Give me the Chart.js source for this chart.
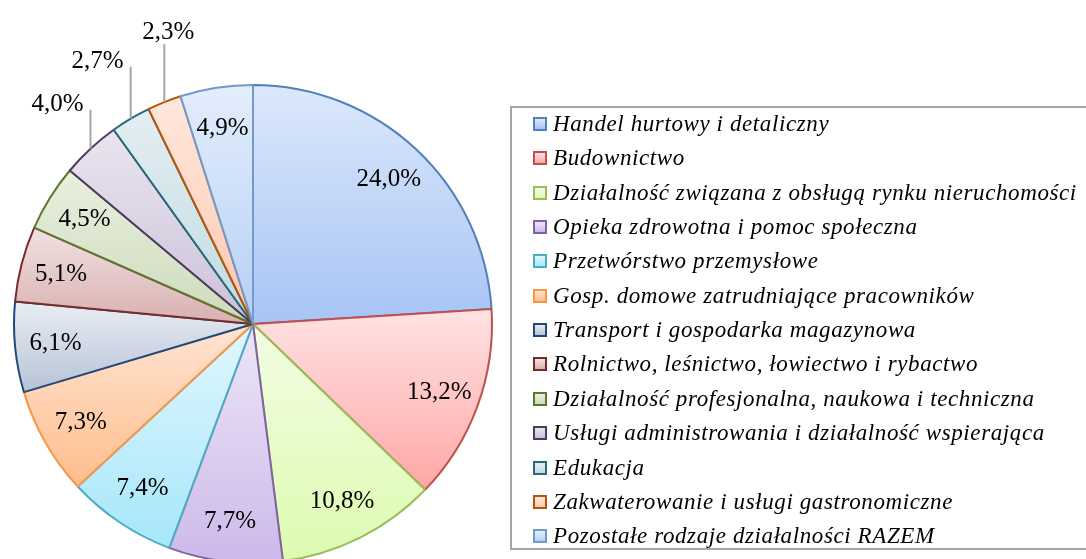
<!DOCTYPE html>
<html lang="pl">
<head>
<meta charset="utf-8">
<script src="https://cdn.jsdelivr.net/npm/chart.js@4/dist/chart.umd.min.js"></script>
<style>
  html, body { margin: 0; padding: 0; background: #fff; overflow: hidden; }
  #wrap { position: relative; width: 1086px; height: 559px; overflow: hidden; }
  #pie { position: absolute; left: 0; top: 0; }
  #legend {
    position: absolute; left: 510px; top: 106px; width: 600px; height: 444px;
    border: 2px solid #a6a6a6; box-sizing: border-box;
    font-family: 'Liberation Serif', serif; font-style: italic; font-size: 23px;
    letter-spacing: 0.6px; color: #000;
  }
  .row { position: absolute; left: 21px; height: 30px; display: flex; align-items: center; white-space: nowrap; }
  .sw { width: 10px; height: 10px; border: 2px solid; margin-right: 6px; flex: none; }
</style>
</head>
<body>
<div id="wrap">
  <canvas id="pie" width="1086" height="620"></canvas>
  <div id="legend"></div>
</div>
<script>
const categories = [
  'Handel hurtowy i detaliczny',
  'Budownictwo',
  'Działalność związana z obsługą rynku nieruchomości',
  'Opieka zdrowotna i pomoc społeczna',
  'Przetwórstwo przemysłowe',
  'Gosp. domowe zatrudniające pracowników',
  'Transport i gospodarka magazynowa',
  'Rolnictwo, leśnictwo, łowiectwo i rybactwo',
  'Działalność profesjonalna, naukowa i techniczna',
  'Usługi administrowania i działalność wspierająca',
  'Edukacja',
  'Zakwaterowanie i usługi gastronomiczne',
  'Pozostałe rodzaje działalności RAZEM'
];
const shares = [24.0, 13.2, 10.8, 7.7, 7.4, 7.3, 6.1, 5.1, 4.5, 4.0, 2.7, 2.3, 4.9];

const edgeColors = ['#4f81bd', '#c0504d', '#9bbb59', '#8064a2', '#4bacc6', '#f79646',
  '#1f497d', '#772c2a', '#5f7530', '#4d3b62', '#276a7c', '#b65708', '#729aca'];
const topColors = ['#dde8fb', '#ffe3e3', '#f3fde3', '#ede6f7', '#e1f7fd', '#ffe4d3',
  '#e9edf3', '#f1e1e1', '#e9f0df', '#eae5f0', '#e3eef2', '#ffe8de', '#e4eefc'];
const bottomColors = ['#a7c4f5', '#ffa6a6', '#dcfbb0', '#cdb9ea', '#a6e6fa', '#ffbd8c',
  '#b6c3d6', '#d8b0b0', '#cddbbb', '#cbc1d8', '#c0dbe2', '#ffc6ad', '#b5cff5'];

const fmt = v => v.toFixed(1).replace('.', ',') + '%';

// vertical gradient over each slice's own bounding box
function sliceFill(context) {
  const i = context.dataIndex;
  const chart = context.chart;
  const area = chart.chartArea;
  if (!area || i === undefined) return topColors[i] || '#fff';
  const cx = (area.left + area.right) / 2, cy = (area.top + area.bottom) / 2;
  const r = Math.min(area.right - area.left, area.bottom - area.top) / 2;
  const total = shares.reduce((a, b) => a + b, 0);
  let before = 0;
  for (let k = 0; k < i; k++) before += shares[k];
  const a0 = -Math.PI / 2 + 2 * Math.PI * before / total;
  const a1 = a0 + 2 * Math.PI * shares[i] / total;
  const ys = [cy, cy + r * Math.sin(a0), cy + r * Math.sin(a1)];
  [-Math.PI / 2, Math.PI / 2, 3 * Math.PI / 2].forEach(a => {
    if (a > a0 && a < a1) ys.push(cy + r * Math.sin(a));
  });
  const g = chart.ctx.createLinearGradient(0, Math.min(...ys), 0, Math.max(...ys));
  g.addColorStop(0, topColors[i]);
  g.addColorStop(1, bottomColors[i]);
  return g;
}

const sliceLabels = {
  id: 'sliceLabels',
  afterDatasetsDraw(chart, args, opts) {
    const ctx = chart.ctx;
    const meta = chart.getDatasetMeta(0);
    ctx.save();
    ctx.font = opts.font;
    ctx.fillStyle = '#000';
    meta.data.forEach((arc, i) => {
      const p = arc.getProps(['x', 'y', 'startAngle', 'endAngle', 'outerRadius'], true);
      const mid = (p.startAngle + p.endAngle) / 2;
      const text = fmt(shares[i]);
      const c = opts.callouts[i];
      if (!c) {
        ctx.textAlign = 'center';
        ctx.textBaseline = 'middle';
        ctx.fillText(text, p.x + Math.cos(mid) * p.outerRadius * opts.inset,
                           p.y + Math.sin(mid) * p.outerRadius * opts.inset);
        return;
      }
      const ax = p.x + Math.cos(mid) * p.outerRadius;
      const ay = p.y + Math.sin(mid) * p.outerRadius;
      const ty = ay - c.len;
      ctx.strokeStyle = '#a6a6a6';
      ctx.lineWidth = 2;
      ctx.beginPath();
      ctx.moveTo(ax, ay);
      ctx.lineTo(ax, ty);
      ctx.stroke();
      if (c.align === 'right') {
        ctx.textAlign = 'right';
        ctx.textBaseline = 'middle';
        ctx.fillText(text, ax - 7, ty - 5);
      } else {
        ctx.textAlign = 'center';
        ctx.textBaseline = 'alphabetic';
        ctx.fillText(text, ax + 4, ty - 5);
      }
    });
    ctx.restore();
  }
};

new Chart(document.getElementById('pie'), {
  type: 'pie',
  data: {
    labels: categories,
    datasets: [{
      data: shares,
      backgroundColor: sliceFill,
      borderColor: edgeColors,
      borderWidth: 2
    }]
  },
  options: {
    responsive: false,
    animation: false,
    devicePixelRatio: 1,
    layout: { padding: { left: 13, top: 84, right: 593, bottom: 56 } },
    plugins: {
      legend: { display: false },
      tooltip: { enabled: false },
      sliceLabels: {
        font: '25px "Liberation Serif", serif',
        inset: 0.83,
        callouts: { 9: { len: 39, align: 'right' }, 10: { len: 52, align: 'right' }, 11: { len: 58, align: 'center' } }
      }
    }
  },
  plugins: [sliceLabels]
});

// legend box
const legend = document.getElementById('legend');
categories.forEach((name, i) => {
  const row = document.createElement('div');
  row.className = 'row';
  row.style.top = (124 + 34.35 * i - 15 - 108) + 'px';
  const sw = document.createElement('span');
  sw.className = 'sw';
  sw.style.borderColor = edgeColors[i];
  sw.style.background = 'linear-gradient(' + topColors[i] + ',' + bottomColors[i] + ')';
  const t = document.createElement('span');
  t.textContent = name;
  row.appendChild(sw);
  row.appendChild(t);
  legend.appendChild(row);
});
</script>
</body>
</html>
